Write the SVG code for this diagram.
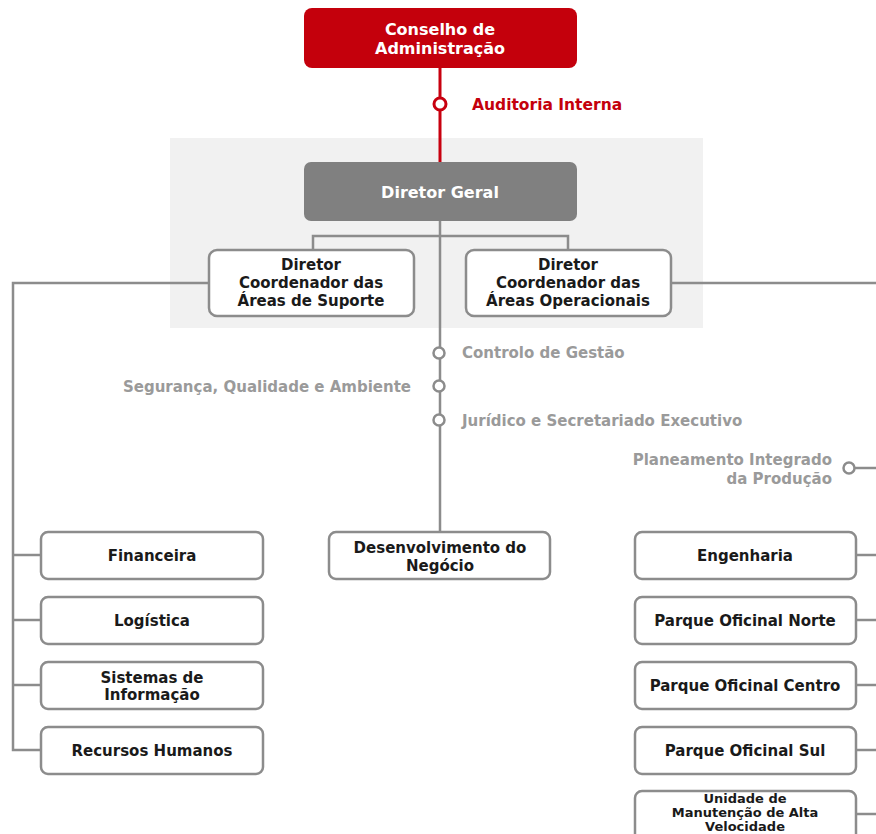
<svg xmlns="http://www.w3.org/2000/svg" width="876" height="834" viewBox="0 0 876 834">
<style>
text{font-family:"DejaVu Sans","Liberation Sans",sans-serif;font-weight:bold;font-size:15px}
.box{fill:#fff;stroke:#8c8c8c;stroke-width:2.5}
.t{fill:#1a1a1a;text-anchor:middle}
.w{fill:#fff;text-anchor:middle;font-size:16px}
.g{fill:#9a9a9a}
.s{font-size:13px}
.ln{fill:none;stroke:#8c8c8c;stroke-width:2.5}
.rl{fill:none;stroke:#c8000f;stroke-width:3}
.dot{fill:#fff;stroke:#8c8c8c;stroke-width:2.5}
</style>
<rect width="876" height="834" fill="#fff"/>
<rect id="panel" x="170" y="138" width="533" height="190" fill="#f1f1f1"/>
<g id="connectors">
<line class="rl" x1="440" y1="68" x2="440" y2="162"/>
<circle cx="440" cy="104" r="6" fill="#fff" stroke="#c8000f" stroke-width="3"/>
<line class="ln" x1="440" y1="221" x2="440" y2="532"/>
<polyline class="ln" points="313,250 313,236 568,236 568,250"/>
<polyline class="ln" points="209,283 13,283 13,750 41,750"/>
<line class="ln" x1="13" y1="555" x2="41" y2="555"/>
<line class="ln" x1="13" y1="620" x2="41" y2="620"/>
<line class="ln" x1="13" y1="685" x2="41" y2="685"/>
<line class="ln" x1="671" y1="283" x2="876" y2="283"/>
<line class="ln" x1="855" y1="468" x2="876" y2="468"/>
<line class="ln" x1="856" y1="555" x2="876" y2="555"/>
<line class="ln" x1="856" y1="620" x2="876" y2="620"/>
<line class="ln" x1="856" y1="685" x2="876" y2="685"/>
<line class="ln" x1="856" y1="750" x2="876" y2="750"/>
<line class="ln" x1="856" y1="814" x2="876" y2="814"/>
<circle class="dot" cx="439" cy="353" r="5.5"/>
<circle class="dot" cx="439" cy="386" r="5.5"/>
<circle class="dot" cx="439" cy="420" r="5.5"/>
<circle class="dot" cx="849" cy="468" r="5.5"/>
</g>
<g id="conselho">
<rect x="304" y="8" width="273" height="60" rx="8" fill="#c4000c"/>
<text class="w" x="440" y="35">Conselho de</text>
<text class="w" x="440" y="54">Administração</text>
</g>
<g id="auditoria"><text x="472" y="110" fill="#c4000c" style="font-size:15.5px">Auditoria Interna</text></g>
<g id="diretor-geral">
<rect x="304" y="162" width="273" height="59" rx="7" fill="#808080"/>
<text class="w" x="440" y="198" fill="#f4f4f4">Diretor Geral</text>
</g>
<g id="dc-suporte">
<rect class="box" x="209" y="250" width="205" height="66" rx="8"/>
<text class="t" x="311" y="270">Diretor</text>
<text class="t" x="311" y="288">Coordenador das</text>
<text class="t" x="311" y="306">Áreas de Suporte</text>
</g>
<g id="dc-operacionais">
<rect class="box" x="466" y="250" width="205" height="66" rx="8"/>
<text class="t" x="568" y="270">Diretor</text>
<text class="t" x="568" y="288">Coordenador das</text>
<text class="t" x="568" y="306">Áreas Operacionais</text>
</g>
<g id="controlo"><text class="g" x="462" y="358">Controlo de Gestão</text></g>
<g id="seguranca"><text class="g" x="411" y="392" text-anchor="end">Segurança, Qualidade e Ambiente</text></g>
<g id="juridico"><text class="g" x="462" y="426">Jurídico e Secretariado Executivo</text></g>
<g id="planeamento">
<text class="g" x="832" y="465" text-anchor="end">Planeamento Integrado</text>
<text class="g" x="832" y="484" text-anchor="end">da Produção</text>
</g>
<g id="desenvolvimento">
<rect class="box" x="329" y="532" width="221" height="47" rx="7"/>
<text class="t" x="440" y="553">Desenvolvimento do</text>
<text class="t" x="440" y="571">Negócio</text>
</g>
<g id="financeira"><rect class="box" x="41" y="532" width="222" height="47" rx="7"/><text class="t" x="152" y="561">Financeira</text></g>
<g id="logistica"><rect class="box" x="41" y="597" width="222" height="47" rx="7"/><text class="t" x="152" y="626">Logística</text></g>
<g id="sistemas"><rect class="box" x="41" y="662" width="222" height="47" rx="7"/><text class="t" x="152" y="683">Sistemas de</text><text class="t" x="152" y="700">Informação</text></g>
<g id="recursos"><rect class="box" x="41" y="727" width="222" height="47" rx="7"/><text class="t" x="152" y="756">Recursos Humanos</text></g>
<g id="engenharia"><rect class="box" x="635" y="532" width="221" height="47" rx="7"/><text class="t" x="745" y="561">Engenharia</text></g>
<g id="norte"><rect class="box" x="635" y="597" width="221" height="47" rx="7"/><text class="t" x="745" y="626">Parque Oficinal Norte</text></g>
<g id="centro"><rect class="box" x="635" y="662" width="221" height="47" rx="7"/><text class="t" x="745" y="691">Parque Oficinal Centro</text></g>
<g id="sul"><rect class="box" x="635" y="727" width="221" height="47" rx="7"/><text class="t" x="745" y="756">Parque Oficinal Sul</text></g>
<g id="unidade"><rect class="box" x="635" y="791" width="221" height="50" rx="7"/><text class="t s" x="745" y="803">Unidade de</text><text class="t s" x="745" y="817">Manutenção de Alta</text><text class="t s" x="745" y="831">Velocidade</text></g>
</svg>
